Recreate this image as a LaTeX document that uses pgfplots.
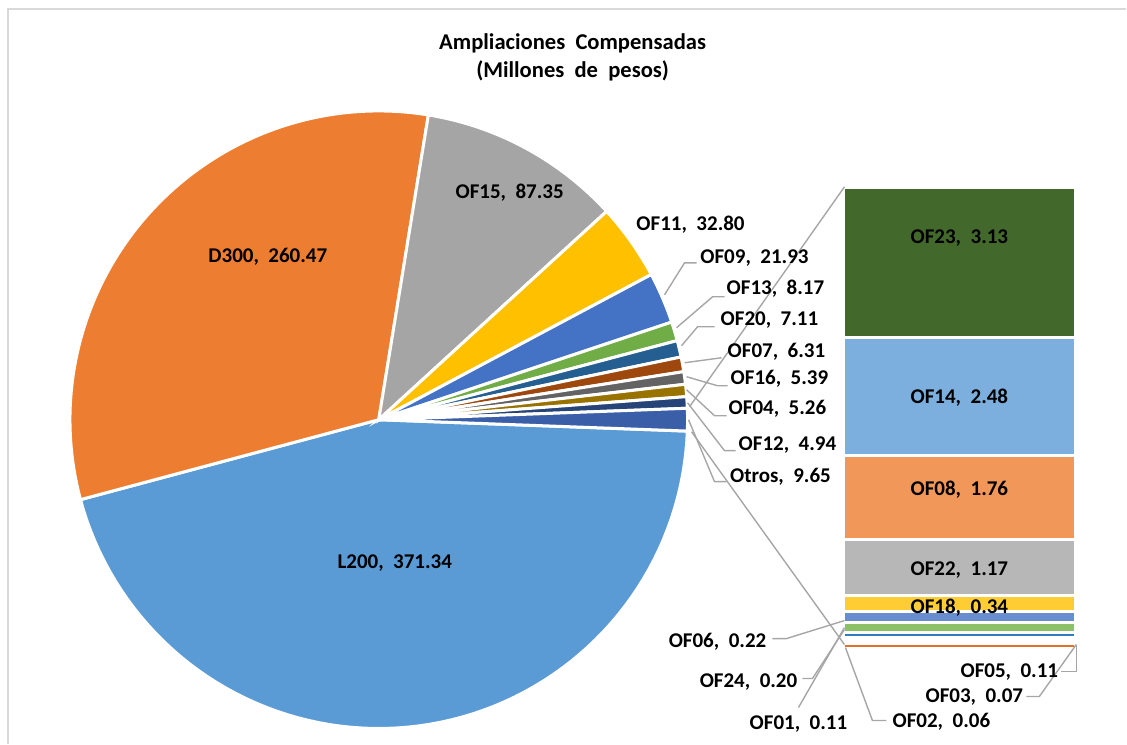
\documentclass[border=0pt]{standalone}
\usepackage{pgfplots}
\pgfplotsset{compat=1.18}
\usepackage{fontspec}
\setmainfont{Carlito}
\definecolor{cL200}{HTML}{5B9BD5}
\definecolor{cD300}{HTML}{ED7D31}
\definecolor{cOF15}{HTML}{A5A5A5}
\definecolor{cOF11}{HTML}{FFC000}
\definecolor{cOF09}{HTML}{4472C4}
\definecolor{cOF13}{HTML}{70AD47}
\definecolor{cOF20}{HTML}{255E91}
\definecolor{cOF07}{HTML}{9E480E}
\definecolor{cOF16}{HTML}{636363}
\definecolor{cOF04}{HTML}{997300}
\definecolor{cOF12}{HTML}{264478}
\definecolor{cOtros}{HTML}{3A5FA8}
\definecolor{cOF23}{HTML}{43682B}
\definecolor{cOF14}{HTML}{7CAFDD}
\definecolor{cOF08}{HTML}{F1975A}
\definecolor{cOF22}{HTML}{B7B7B7}
\definecolor{cOF18}{HTML}{FFCD33}
\definecolor{cOF06}{HTML}{698ED0}
\definecolor{cOF24}{HTML}{8CC168}
\definecolor{cOF01}{HTML}{327DC2}
\definecolor{cOF02}{HTML}{F4B183}
\definecolor{cOF03}{HTML}{ED7D31}
\definecolor{cOF05}{HTML}{E0702A}
\definecolor{leader}{HTML}{A6A6A6}
\definecolor{chartframe}{HTML}{D9D9D9}
% pie data: value/colour (clockwise, starting with L200)
\def\piedata{371.34/cL200, 260.47/cD300, 87.35/cOF15, 32.80/cOF11, 21.93/cOF09, 8.17/cOF13, 7.11/cOF20, 6.31/cOF07, 5.39/cOF16, 5.26/cOF04, 4.94/cOF12, 9.65/cOtros}
% bar data (top to bottom)
\def\bardata{3.13/cOF23, 2.48/cOF14, 1.76/cOF08, 1.17/cOF22, 0.34/cOF18, 0.22/cOF06, 0.20/cOF24, 0.11/cOF01, 0.06/cOF02, 0.07/cOF03, 0.11/cOF05}
\newcommand{\lab}[2]{#1,\ \ #2}
\pgfplotsset{ldr/.style={draw=leader, line width=0.7pt, forget plot, no marks}}
\begin{document}
\begin{tikzpicture}
\begin{axis}[x=0.5pt, y=0.5pt, xmin=0, xmax=1127, ymin=0, ymax=744, enlargelimits=false,
  y dir=reverse, hide axis, scale only axis, clip=false]
% invisible extent of the chart area
\addplot[draw=none, forget plot, no marks] coordinates {(0,0) (1127,0) (1127,744) (0,744)};
% frame (top and left edges visible)
\addplot[draw=chartframe, line width=0.75pt, forget plot, no marks] coordinates {(8,744) (8,9) (1127,9)};
% total of the pie
\xdef\pietot{0}
\foreach \v/\c in \piedata {\pgfmathsetmacro\t{\pietot+\v}\xdef\pietot{\t}}
% pie slices
\xdef\cur{-2.1147}
\foreach \v/\c in \piedata {%
  \pgfmathsetmacro\a{\cur}%
  \pgfmathsetmacro\b{\cur-\v/\pietot*360}%
  \edef\doplot{\noexpand\addplot[fill=\c, draw=white, line width=1.5pt, domain=\b:\a, samples=80, forget plot, no marks] ({379+309*cos(x)},{420-309*sin(x)}) -- (axis cs:379,420) -- cycle;}%
  \doplot
  \xdef\cur{\b}%
}
% bar of the composite slice
\xdef\cum{0}
\foreach \v/\c in \bardata {%
  \pgfmathsetmacro\ya{187.5+\cum*47.85}%
  \pgfmathsetmacro\yb{187.5+(\cum+\v)*47.85}%
  \edef\doplot{\noexpand\addplot[fill=\c, draw=white, line width=1.5pt, forget plot, no marks] coordinates {(844,\ya) (1076,\ya) (1076,\yb) (844,\yb)} -- cycle;}%
  \doplot
  \pgfmathsetmacro\t{\cum+\v}\xdef\cum{\t}%
}
% connector and leader lines
\addplot[ldr] coordinates {(690,407) (845,187)};
\addplot[ldr] coordinates {(692,432) (845,645)};
\addplot[ldr] coordinates {(665,295) (685,263) (697,263)};
\addplot[ldr] coordinates {(677,328) (713,297) (725,297)};
\addplot[ldr] coordinates {(682,346) (698,327) (715,327)};
\addplot[ldr] coordinates {(685,363) (722,358)};
\addplot[ldr] coordinates {(687,377) (718,386) (728,386)};
\addplot[ldr] coordinates {(687,390) (715,416) (727,416)};
\addplot[ldr] coordinates {(688,403) (725,451) (736,451)};
\addplot[ldr] coordinates {(689,420) (715,482) (727,482)};
\addplot[ldr] coordinates {(773,639) (787,639) (845,621)};
\addplot[ldr] coordinates {(803,679) (813,679) (845,630)};
\addplot[ldr] coordinates {(799,708) (845,628)};
\addplot[ldr] coordinates {(846,648) (873,721) (887,721)};
\addplot[ldr] coordinates {(1027,697) (1040,697) (1077,645)};
\addplot[ldr] coordinates {(1062,672) (1077,672) (1077,645)};
% title
\node[font=\fontsize{11.3}{14}\selectfont\bfseries, align=center] at (axis cs:573,57) {Ampliaciones\ \ Compensadas\\[0pt](Millones\ \ de\ \ pesos)};
% labels
\begin{scope}[every node/.style={font=\fontsize{10.5}{12}\selectfont\bfseries, inner sep=0pt}]
\node at (axis cs:268,257) {\lab{D300}{260.47}};
\node at (axis cs:510,193) {\lab{OF15}{87.35}};
\node at (axis cs:395,563) {\lab{L200}{371.34}};
\node at (axis cs:691,225) {\lab{OF11}{32.80}};
\node at (axis cs:755,258) {\lab{OF09}{21.93}};
\node at (axis cs:776,289) {\lab{OF13}{8.17}};
\node at (axis cs:770,320) {\lab{OF20}{7.11}};
\node at (axis cs:777,352) {\lab{OF07}{6.31}};
\node at (axis cs:780,379) {\lab{OF16}{5.39}};
\node at (axis cs:778,409) {\lab{OF04}{5.26}};
\node at (axis cs:788,445) {\lab{OF12}{4.94}};
\node at (axis cs:781,477) {\lab{Otros}{9.65}};
\node at (axis cs:960,238) {\lab{OF23}{3.13}};
\node at (axis cs:960,398) {\lab{OF14}{2.48}};
\node at (axis cs:960,490) {\lab{OF08}{1.76}};
\node at (axis cs:960,570) {\lab{OF22}{1.17}};
\node at (axis cs:960,608) {\lab{OF18}{0.34}};
\node at (axis cs:718,642) {\lab{OF06}{0.22}};
\node at (axis cs:749,682) {\lab{OF24}{0.20}};
\node at (axis cs:799,725) {\lab{OF01}{0.11}};
\node at (axis cs:942,722) {\lab{OF02}{0.06}};
\node at (axis cs:975,698) {\lab{OF03}{0.07}};
\node at (axis cs:1010,672) {\lab{OF05}{0.11}};
\end{scope}
\end{axis}
\end{tikzpicture}
\end{document}
